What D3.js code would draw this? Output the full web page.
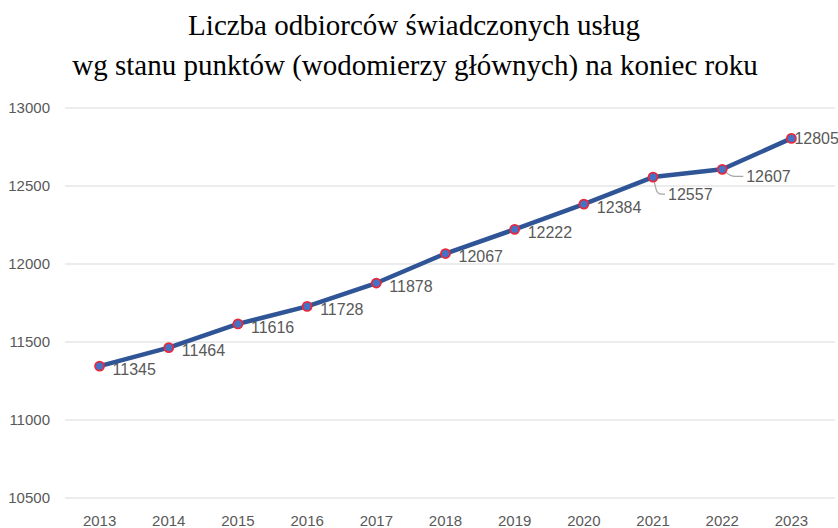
<!DOCTYPE html>
<html>
<head>
<meta charset="utf-8">
<script src="https://cdn.jsdelivr.net/npm/d3@7"></script>
<style>
  body { margin: 0; background: #fff; }
</style>
</head>
<body>
<div id="chart"></div>
<script>
const years = ['2013', '2014', '2015', '2016', '2017', '2018', '2019', '2020', '2021', '2022', '2023'];
const values = [11345, 11464, 11616, 11728, 11878, 12067, 12222, 12384, 12557, 12607, 12805];
const yTicks = [10500, 11000, 11500, 12000, 12500, 13000];
const titleLines = ['Liczba odbiorców świadczonych usług', 'wg stanu punktów (wodomierzy głównych) na koniec roku'];

const width = 838;
const height = 528;
const margin = { top: 108, right: 3, bottom: 30, left: 65 };
const plotRight = 826; // category band ends before the gridlines do

const svg = d3.select('#chart')
  .append('svg')
  .attr('width', width)
  .attr('height', height);

// title
svg.append('g').selectAll('text')
  .data(titleLines)
  .enter()
  .append('text')
  .attr('x', (d, i) => i === 0 ? 414 : 415)
  .attr('y', (d, i) => 35 + i * 40)
  .attr('text-anchor', 'middle')
  .style('font-family', '"Liberation Serif", "Times New Roman", serif')
  .style('font-size', '29px')
  .style('fill', '#000')
  .text(d => d);

const x = d3.scaleBand()
  .domain(years)
  .range([margin.left, plotRight]);

const y = d3.scaleLinear()
  .domain([10500, 13000])
  .range([height - margin.bottom, margin.top]);

// gridlines
svg.append('g').selectAll('line')
  .data(yTicks)
  .enter()
  .append('line')
  .attr('x1', margin.left)
  .attr('x2', width - margin.right)
  .attr('y1', d => y(d))
  .attr('y2', d => y(d))
  .attr('stroke', '#d9d9d9')
  .attr('stroke-width', 1);

// y axis labels
const yAxis = svg.append('g')
  .attr('transform', `translate(${margin.left},0)`)
  .call(d3.axisLeft(y).tickValues(yTicks).tickSize(0).tickPadding(15).tickFormat(d3.format('d')));
yAxis.select('.domain').remove();
yAxis.selectAll('text')
  .style('font-family', '"Liberation Sans", Arial, sans-serif')
  .style('font-size', '15px')
  .style('fill', '#595959');

// x axis labels
const xAxis = svg.append('g')
  .attr('transform', `translate(0,${height - margin.bottom})`)
  .call(d3.axisBottom(x).tickSize(0).tickPadding(17));
xAxis.select('.domain').remove();
xAxis.selectAll('text')
  .style('font-family', '"Liberation Sans", Arial, sans-serif')
  .style('font-size', '15px')
  .style('fill', '#595959');

const cx = d => x(d) + x.bandwidth() / 2;
const points = years.map((yr, i) => ({ year: yr, value: values[i] }));

// line
const line = d3.line()
  .x(d => cx(d.year))
  .y(d => y(d.value));

svg.append('path')
  .datum(points)
  .attr('d', line)
  .attr('fill', 'none')
  .attr('stroke', '#2f5597')
  .attr('stroke-width', 4.5)
  .attr('stroke-linejoin', 'round');

// label offsets (most sit right of point; 2021/2022 pulled out with leader lines)
const labelOffset = {
  '2021': { dx: 15, dy: 17, leader: true },
  '2022': { dx: 24, dy: 7, leader: true },
  '2023': { dx: 3, dy: 0 }
};
const off = d => labelOffset[d.year] || { dx: 13, dy: 3 };

// leader lines
svg.append('g').selectAll('path')
  .data(points.filter(d => off(d).leader))
  .enter()
  .append('path')
  .attr('d', d => {
    const px = cx(d.year), py = y(d.value), o = off(d);
    const lx = px + o.dx - 3, ly = py + o.dy;
    if (d.year === '2021') {
      return `M${px + 1},${py + 4} L${px + 3},${ly - 5} Q${px + 4},${ly} ${px + 9},${ly} L${lx},${ly}`;
    }
    return `M${px + 4},${py + 3} Q${px + 8},${ly} ${px + 13},${ly} L${lx},${ly}`;
  })
  .attr('fill', 'none')
  .attr('stroke', '#a6a6a6')
  .attr('stroke-width', 1.2);

// markers
svg.append('g').selectAll('circle')
  .data(points)
  .enter()
  .append('circle')
  .attr('cx', d => cx(d.year))
  .attr('cy', d => y(d.value))
  .attr('r', 4.5)
  .attr('fill', '#4472c4')
  .attr('stroke', '#e8283c')
  .attr('stroke-width', 1.8);

svg.append('g').selectAll('text')
  .data(points)
  .enter()
  .append('text')
  .attr('x', d => cx(d.year) + off(d).dx)
  .attr('y', d => y(d.value) + off(d).dy)
  .attr('dy', '0.35em')
  .style('font-family', '"Liberation Sans", Arial, sans-serif')
  .style('font-size', '16px')
  .style('fill', '#595959')
  .text(d => d.value);
</script>
</body>
</html>
